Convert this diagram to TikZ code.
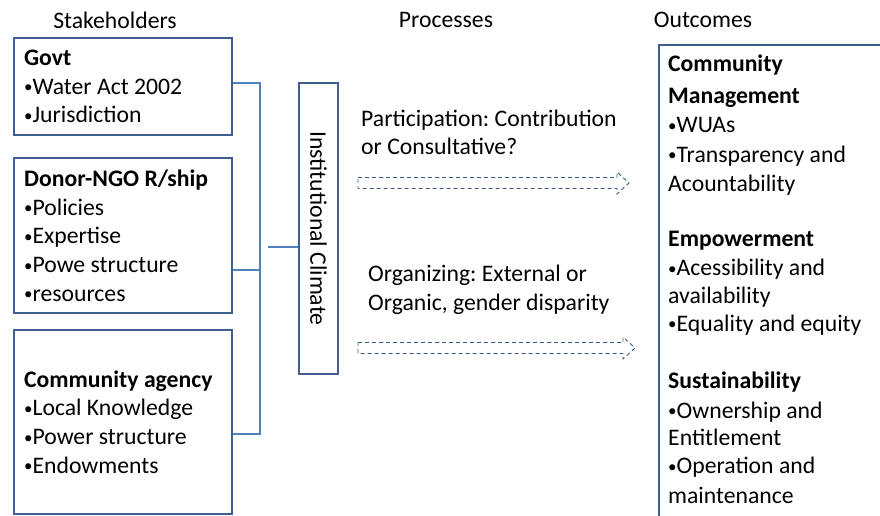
\documentclass[tikz,border=0pt]{standalone}
\usepackage{fontspec}
\setmainfont{Carlito}
\usepackage{xcolor}
\frenchspacing

\definecolor{boxblue}{HTML}{3F5F93}
\definecolor{linkblue}{HTML}{4F81BD}
\definecolor{arrowblue}{HTML}{385D8A}

\newcommand{\bul}{{\fontsize{17}{17}\selectfont\raisebox{1.5pt}{•}}}

\tikzset{
  stakebox/.style={draw=boxblue, line width=2.2pt, anchor=north west, text width=198pt,
    inner xsep=10pt, inner ysep=0pt, align=flush left, minimum width=218pt},
  link/.style={draw=linkblue, line width=2.2pt},
  procarrow/.style={draw=arrowblue, line width=0.9pt, dash pattern=on 4pt off 3pt},
  plain/.style={inner sep=0pt, align=flush left}
}

\begin{document}
\begin{tikzpicture}[x=1pt, y=-1pt, font=\fontsize{23.7}{28.7}\selectfont]
		\useasboundingbox (0,0) rectangle (880,515);
		\clip (0,0) rectangle (880,515);
		% column titles
		\node[plain] (stakeT) at (115,20) {Stakeholders};
		\node[plain] (procT) at (446,20) {Processes};
		\node[plain] (outT) at (703,20) {Outcomes};
		%
		\node[stakebox, minimum height=97pt] (govt) at (13,37)
		  {\textbf{Govt}\\ \bul Water Act 2002\\ \bul Jurisdiction};
		\node[stakebox, minimum height=155pt] (donor) at (13,157)
		  {\textbf{Donor-NGO R/ship}\\ \bul Policies\\ \bul Expertise\\ \bul Powe structure\\ \bul resources};
		\node[stakebox, minimum height=184pt] (commun) at (13,329)
		  {\textbf{Community agency}\\ \bul Local Knowledge\\ \bul Power structure\\ \bul Endowments};
		%
		\node[draw=boxblue, line width=2.2pt, minimum width=291pt, minimum height=39pt,
		  rotate=-90, inner sep=0pt] (climate) at (318.5,228.5) {Institutional Climate};
		%
		\coordinate (busTop) at (260,83);
		\coordinate (busBot) at (260,434);
		\coordinate (feed) at (268,247);
		\draw[link] (govt.east |- busTop) -- (busTop) -- (busBot) -- (commun.east |- busBot);
		\draw[link] (donor.east |- 0,270) -- (busTop |- 0,270);
		\draw[link] (feed) -- (climate.south |- feed);
		%
		\node[plain, anchor=west] (partic) at (361,132.5)
		  {Participation: Contribution\\ or Consultative?};
		\node[plain, anchor=west] (organ) at (368,290)
		  {Organizing: External or\\ Organic, gender disparity};
		%
		\draw[procarrow] (358,177.5) -- (617,177.5) -- (617,172) -- (629,183)
		  -- (617,194) -- (617,188.5) -- (358,188.5) -- cycle;
		\draw[procarrow] (358,342.5) -- (623,342.5) -- (623,337) -- (635,348)
		  -- (623,359) -- (623,353.5) -- (358,353.5) -- cycle;
		%
		\node[draw=boxblue, line width=2.2pt, anchor=north west, minimum width=260pt,
		  minimum height=520pt] (outcome) at (658,44) {};
		\node[plain, anchor=north west, font=\fontsize{23.7}{29.5}\selectfont] (outtext) at (668,55)
		  {\textbf{Community}\\[2pt] \textbf{Management}\\ \bul WUAs\\ \bul Transparency and\\ Acountability\\[25pt]
		   \textbf{Empowerment}\\ \bul Acessibility and\\[-1.5pt] availability\\[-2pt] \bul Equality and equity\\[28pt]
		   \textbf{Sustainability}\\ \bul Ownership and\\[-2pt] Entitlement\\[-1.5pt] \bul Operation and\\ maintenance};
\end{tikzpicture}
\end{document}
